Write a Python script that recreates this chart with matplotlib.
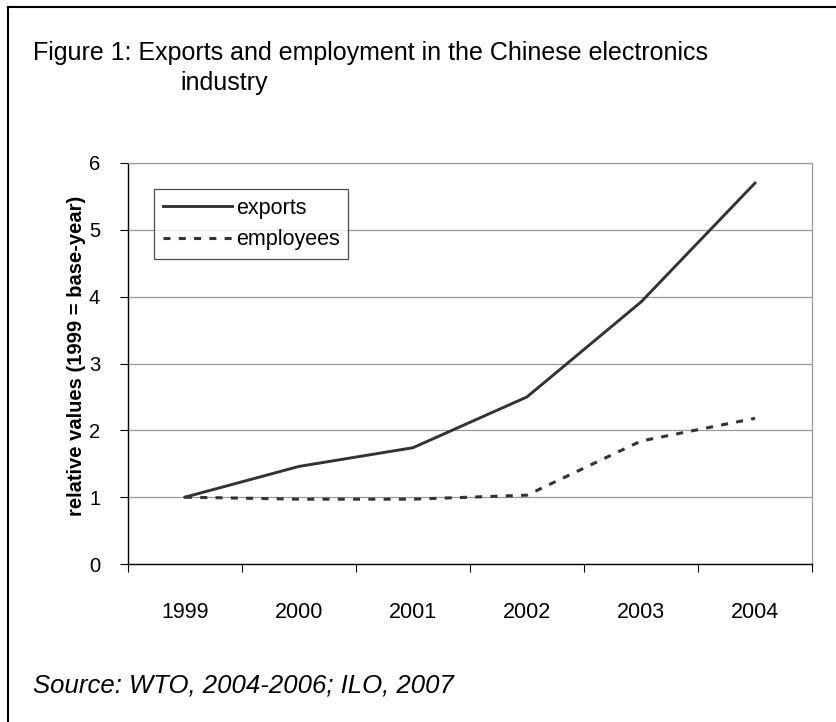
import matplotlib
matplotlib.use("Agg")
import matplotlib.pyplot as plt
from matplotlib.lines import Line2D

plt.rcParams['font.family'] = ['Liberation Sans', 'DejaVu Sans']

years = ['1999', '2000', '2001', '2002', '2003', '2004']
exports = [1.0, 1.46, 1.74, 2.50, 3.92, 5.70]
employees = [1.0, 0.97, 0.97, 1.03, 1.84, 2.18]

W, H = 836, 722
fig = plt.figure(figsize=(W / 100, H / 100), dpi=100)

# outer border (only top and left visible in the original)
fig.add_artist(Line2D([8/W, 8/W], [0, 1 - 7/H], color='black', lw=1.5, transform=fig.transFigure))
fig.add_artist(Line2D([8/W, 1], [1 - 7/H, 1 - 7/H], color='black', lw=1.5, transform=fig.transFigure))

fig.text(33/W, 1 - 60/H, "Figure 1: Exports and employment in the Chinese electronics",
         fontsize=18, va='baseline', ha='left')
fig.text(180/W, 1 - 90/H, "industry", fontsize=18, va='baseline', ha='left')
fig.text(33/W, 1 - 692/H, "Source: WTO, 2004-2006; ILO, 2007",
         fontsize=18.5, style='italic', va='baseline', ha='left')

ax = fig.add_axes([128/W, 1 - 564/H, (812 - 128)/W, (564 - 163)/H])

x = range(len(years))
ax.plot(x, exports, color='#333333', lw=2.1, label='exports')
ax.plot(x, employees, color='#333333', lw=2.2, dashes=(2.3, 2.7), label='employees')

ax.set_xlim(-0.5, 5.5)
ax.set_ylim(0, 6)
ax.set_yticks(range(7))
ax.set_xticks([i - 0.5 for i in range(7)])
ax.set_xticklabels([])
ax.set_xticks(list(x), minor=True)
ax.set_xticklabels(years, minor=True)
ax.tick_params(axis='x', which='minor', length=0, pad=27, labelsize=15.5)
ax.tick_params(axis='x', which='major', direction='out', length=6, color='black')
ax.tick_params(axis='y', direction='out', length=6, labelsize=14.5, pad=14)
ax.grid(axis='y', color='#999999', lw=0.9)
ax.set_axisbelow(True)

for s in ['top', 'right']:
    ax.spines[s].set_color('#999999')
    ax.spines[s].set_linewidth(0.9)
for s in ['left', 'bottom']:
    ax.spines[s].set_color('black')
    ax.spines[s].set_linewidth(1)

ax.set_ylabel("relative values (1999 = base-year)", fontsize=14.5, fontweight='bold')
ax.yaxis.set_label_coords(-(128 - 86) / 684, (564 - 356) / 401)

leg = ax.legend(loc='upper left', bbox_to_anchor=(26/684, 1 - 26/401), fontsize=15.5,
                frameon=True, fancybox=False, handlelength=3.2, handletextpad=0.2,
                borderpad=0.4, labelspacing=0.5, borderaxespad=0)
leg.get_frame().set_edgecolor('#222222')
leg.get_frame().set_linewidth(0.9)

fig.savefig('out.png', dpi=100)
